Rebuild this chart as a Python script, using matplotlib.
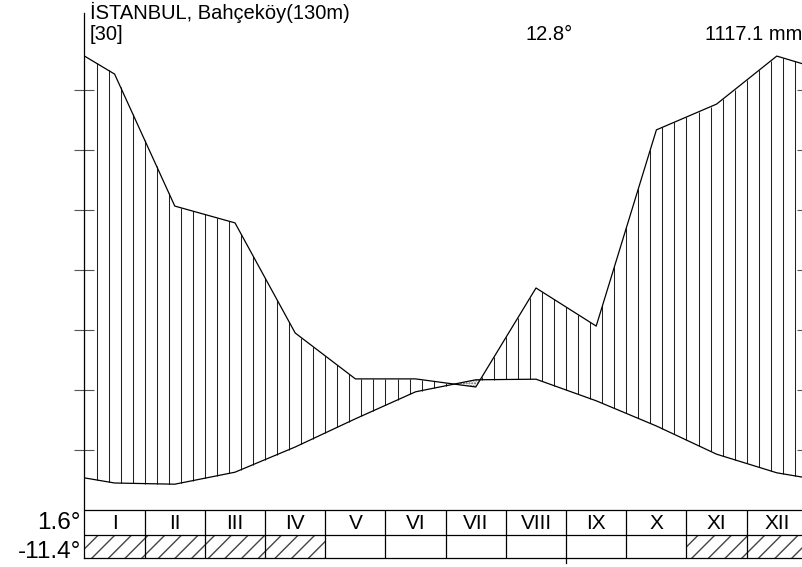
import numpy as np
import matplotlib
matplotlib.use("Agg")
import matplotlib.pyplot as plt

plt.rcParams["font.family"] = ["Liberation Sans", "DejaVu Sans"]

# İstanbul Bahçeköy iklim diyagramı (Walter-Lieth)
months = ["I", "II", "III", "IV", "V", "VI", "VII", "VIII", "IX", "X", "XI", "XII"]
temp = [4.5, 4.3, 6.3, 10.5, 15.2, 19.7, 21.7, 21.8, 18.2, 14.0, 9.3, 6.2]          # °C
precip = [145.3, 101.3, 95.7, 59.0, 43.7, 43.7, 41.0, 74.0, 61.3, 126.7, 135.3, 151.3]  # mm
frost_months = [1, 2, 3, 4, 11, 12]

station = "İSTANBUL, Bahçeköy(130m)"
years = "[30]"
mean_temp = "12.8°"
total_precip = "1117.1 mm"
min_cold_month = "1.6°"
abs_min = "-11.4°"

# 10 °C = 20 mm
p_scaled = np.array(precip) / 2.0
t = np.array(temp)

xm = np.arange(12) + 0.5
x_ext = np.concatenate([[0], xm, [12]])
t_edge = (t[-1] + t[0]) / 2
t_ext = np.concatenate([[t_edge], t, [t_edge]])
p_ext = np.concatenate([[p_scaled[-1]], p_scaled, [(p_scaled[-1] + p_scaled[0]) / 2]])

W, H = 803, 567
fig = plt.figure(figsize=(W / 100, H / 100), dpi=100)
ax = fig.add_axes([84.5 / W, (H - 558) / H, 722.4 / W, (558 - 13) / H])
ax.set_xlim(0, 12)
ax.set_ylim(-8, 82.83)

# humid area: vertical lines every 0.2 month
xs = np.arange(0, 12.001, 0.2)
pi = np.interp(xs, x_ext, p_ext)
ti = np.interp(xs, x_ext, t_ext)
wet = pi > ti
ax.vlines(xs[wet], ti[wet], pi[wet], color="#222222", lw=0.75)

# arid area: dots
xf = np.linspace(0, 12, 1201)
pf = np.interp(xf, x_ext, p_ext)
tf = np.interp(xf, x_ext, t_ext)
ax.fill_between(xf, pf, tf, where=tf > pf, facecolor="none", edgecolor="#555555",
                hatch="......", linewidth=0, interpolate=True)

ax.plot(x_ext, p_ext, color="black", lw=0.9)
ax.plot(x_ext, t_ext, color="black", lw=0.9)

# month table
row_mid = -4.17
ax.axhline(0, color="black", lw=0.9)
ax.axhline(row_mid, color="black", lw=0.9)
ax.vlines(np.arange(1, 12), -8, 0, color="black", lw=0.9)
for m in frost_months:
    ax.fill_between([m - 1, m], -8, row_mid, facecolor="none", edgecolor="#444444",
                    hatch="//", linewidth=0)
for i, name in enumerate(months):
    ax.text(i + 0.5, -2.2, name, ha="center", va="center", fontsize=15)
ax.plot([8, 8], [-8, -8.85], color="black", lw=0.9, clip_on=False)

ax.text(-0.06, -2.2, min_cold_month, ha="right", va="center", fontsize=17.5)
ax.text(-0.06, -7.0, abs_min, ha="right", va="center", fontsize=17.5)

ax.set_xticks([])
ax.set_yticks(range(10, 80, 10))
ax.tick_params(axis="y", direction="inout", length=15, width=0.8, color="#555555",
               left=True, right=True, labelleft=False)
ax.spines["top"].set_visible(False)
for s in ["left", "right", "bottom"]:
    ax.spines[s].set_linewidth(0.9)

fig.text(90 / W, 1 - 19 / H, station, ha="left", va="baseline", fontsize=14.5)
fig.text(90 / W, 1 - 40.5 / H, years, ha="left", va="baseline", fontsize=14.5)
fig.text(573 / W, 1 - 40.5 / H, mean_temp, ha="right", va="baseline", fontsize=14.5)
fig.text(802 / W, 1 - 40.5 / H, total_precip, ha="right", va="baseline", fontsize=14.5)

fig.savefig("out.png", dpi=100)
